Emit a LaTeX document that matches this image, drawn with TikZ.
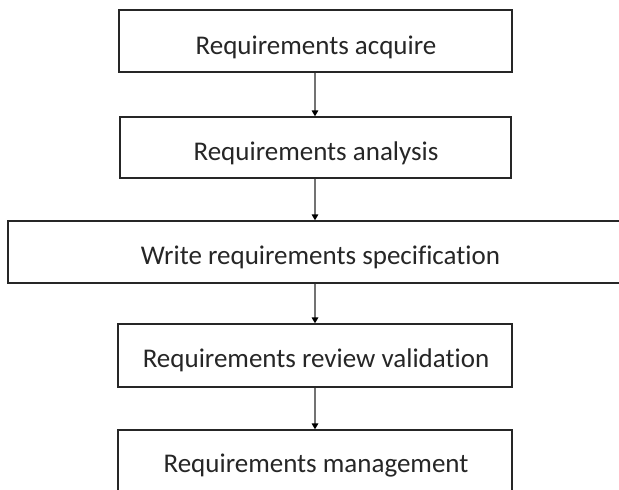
\documentclass[tikz,border=0pt]{standalone}
\usepackage{fontspec}
\setmainfont{Carlito}[Ligatures=NoCommon]
\usetikzlibrary{arrows.meta}
\begin{document}
\begin{tikzpicture}[x=1pt,y=-1pt,
  stepbox/.style={draw=black!85, line width=1.3pt, rectangle, inner sep=0pt},
  lbl/.style={anchor=base, inner sep=0pt, font=\fontsize{27}{31}\selectfont, text=black!85},
  conn/.style={draw=black!55, line width=2.6pt, -{Triangle[length=6pt,width=6.5pt,fill=black,color=black]}}]
\useasboundingbox (0,0) rectangle (619,490);
\fill[white] (0,0) rectangle (619,490);
\node[stepbox, minimum width=393pt, minimum height=62pt] (b1) at (315.5,41) {};
\node[stepbox, minimum width=391pt, minimum height=61pt] (b2) at (315.5,147.5) {};
\node[stepbox, minimum width=640pt, minimum height=62pt] (b3) at (328,252) {};
\node[stepbox, minimum width=394pt, minimum height=63pt] (b4) at (315,355.5) {};
\node[stepbox, minimum width=394pt, minimum height=62pt] (b5) at (315,461) {};
\node[lbl] (t1) at (316,54) {Requirements acquire};
\node[lbl] (t2) at (316,160) {Requirements analysis};
\node[lbl] (t3) at (320.5,264) {Write requirements specification};
\node[lbl] (t4) at (316,367) {Requirements review validation};
\node[lbl] (t5) at (316,472) {Requirements management};
\coordinate (a1) at (315,0);
\draw[conn] (b1.south -| a1) -- (b2.north -| a1);
\draw[conn] (b2.south -| a1) -- (b3.north -| a1);
\draw[conn] (b3.south -| a1) -- (b4.north -| a1);
\draw[conn] (b4.south -| a1) -- (b5.north -| a1);
\end{tikzpicture}
\end{document}
